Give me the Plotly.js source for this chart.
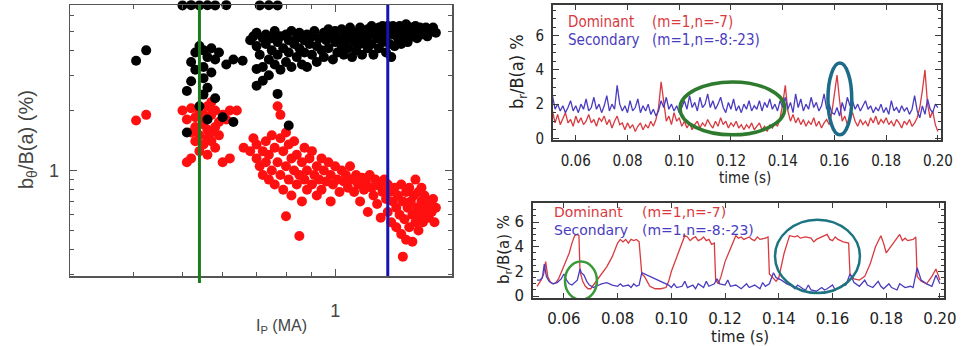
<!DOCTYPE html>
<html><head><meta charset="utf-8">
<script src="https://cdn.plot.ly/plotly-3.0.1.min.js"></script>
<style>html,body{margin:0;padding:0;background:#fff}#plot{width:965px;height:346px}</style>
</head><body><div id="plot"></div>
<script>
// ---------- Left panel: b_theta/B(a) vs Ip ----------
const blackIp = [0.405,0.424,
 0.52,0.53,0.54,0.55,0.56,0.57,0.58,0.53,0.55,0.57,0.52,0.56,0.51,0.55,0.58,0.54,0.51,0.56,0.61,0.63,0.60,0.63,0.55,0.59,0.657,0.70,0.72,0.70,0.77,0.81,
 0.68,0.69,0.70,0.70,0.71,0.72,0.72,0.73,0.73,0.74,0.74,0.75,0.75,0.76,0.76,0.77,0.77,0.78,0.78,0.79,0.80,0.80,0.81,0.81,0.82,0.82,0.83,0.84,0.84,0.85,0.85,0.86,0.87,0.87,0.88,0.88,0.89,0.90,0.90,0.91,0.92,0.92,0.93,0.94,0.95,0.95,0.96,0.97,0.97,0.98,0.99,1.00,1.00,1.01,1.02,1.03,1.03,1.04,1.05,1.05,1.06,1.07,1.07,1.08,1.09,1.10,1.10,1.11,1.12,1.12,1.13,1.14,1.15,1.16,1.16,1.17,1.18,1.18,1.19,1.20,1.21,1.22,1.22,1.23,1.24,1.24,1.25,1.26,1.26,1.27,1.28,1.28,1.29,1.30,1.30,1.31,1.32,1.33,1.34,1.35,1.35,1.36,1.37,1.38,1.39,1.40,1.41,1.42,1.43,1.44,1.45,1.46,1.47,1.48,1.49,1.50,1.51,1.52,1.53,1.55,1.56,1.58,
 0.50,0.52,0.54,0.56,0.58,0.61,0.71,0.74,0.77];
const blackB = [3.55,4.0,
 3.5,3.9,4.2,4.0,3.7,4.1,3.6,3.2,3.3,3.1,2.8,2.6,2.5,2.4,2.3,2.1,1.55,1.8,3.4,3.6,1.85,1.75,2.9,3.9,3.55,3.23,2.82,2.66,2.42,1.68,
 4.5,4.7,4.9,4.2,3.8,4.6,3.3,4.8,4.3,3.6,3.0,4.6,4.0,5.0,3.4,4.4,3.8,4.7,3.2,4.1,4.8,3.5,4.5,3.9,5.0,3.3,4.3,4.6,3.7,4.9,4.1,3.4,4.5,3.9,4.8,3.3,4.3,4.7,3.8,5.0,4.2,3.5,4.6,4.0,4.9,3.7,4.5,5.1,4.1,4.7,3.6,4.4,5.0,3.9,4.6,5.1,4.2,3.8,4.8,4.5,4.1,5.2,4.7,3.7,4.4,4.9,4.0,4.7,5.2,4.3,3.8,4.8,4.5,5.1,4.1,4.8,5.3,4.3,3.8,4.9,4.6,5.2,4.1,4.8,5.3,4.4,5.0,3.9,4.7,5.3,4.3,5.0,3.7,4.8,5.3,4.2,5.0,4.6,5.3,4.3,4.9,5.1,4.7,5.4,4.4,5.0,5.2,4.7,5.1,5.3,4.6,5.0,5.2,4.8,5.1,4.9,5.2,4.7,5.1,5.0,5.2,4.9,
 6.72,6.74,6.72,6.73,6.72,6.74,6.72,6.73,6.72];
const redIp = [0.405,0.424,
 0.50,0.52,0.54,0.56,0.58,0.60,0.62,0.64,0.51,0.53,0.55,0.57,0.59,0.61,0.53,0.55,0.56,0.58,0.54,0.56,0.57,0.55,0.57,0.58,0.54,0.56,0.52,0.51,0.60,0.62,0.53,0.52,0.59,0.55,0.57,
 0.66,0.68,0.69,0.70,0.70,0.71,0.72,0.72,0.73,0.73,0.74,0.74,0.75,0.75,0.76,0.76,0.77,0.77,0.78,0.78,0.78,0.79,0.79,0.80,0.80,0.80,0.81,0.81,0.82,0.82,0.83,0.83,0.84,0.84,0.85,0.85,0.86,0.86,0.87,0.87,0.88,0.88,0.89,0.90,0.90,0.91,0.92,0.92,0.93,0.94,0.94,0.95,0.96,0.97,0.98,0.98,0.99,1.00,1.01,1.02,1.03,1.04,1.05,1.06,1.07,1.08,1.09,1.10,1.11,1.12,1.13,1.14,1.15,1.16,1.17,1.18,1.19,1.20,1.21,1.22,1.23,1.24,1.25,1.26,1.27,1.27,1.28,1.29,1.30,1.31,1.32,1.32,1.33,1.34,1.35,1.35,1.36,1.36,1.37,1.38,1.38,1.39,1.40,1.40,1.41,1.42,1.42,1.43,1.44,1.44,1.45,1.46,1.46,1.47,1.48,1.48,1.49,1.50,1.50,1.51,1.52,1.53,1.54,1.55,1.56,1.58,1.57];
const redB = [1.78,1.9,
 2.0,2.05,1.95,2.1,2.0,1.9,2.0,2.0,1.8,1.85,1.8,1.9,1.75,1.8,1.65,1.7,1.6,1.65,1.5,1.45,1.55,1.35,1.4,1.3,1.25,1.2,1.15,1.1,1.1,1.15,1.4,1.55,1.5,1.9,2.2,
 1.30,1.25,1.45,1.15,1.35,1.05,1.25,0.95,1.4,1.1,0.9,1.2,1.5,1.0,1.3,0.85,1.1,2.1,1.9,1.45,0.95,1.25,0.8,1.05,0.59,1.55,1.35,0.9,1.15,0.75,1.0,1.4,0.85,1.2,0.47,0.95,1.1,0.7,1.3,0.9,1.0,0.8,1.15,0.85,1.25,0.95,1.05,0.75,0.9,1.15,0.8,1.0,0.88,1.1,0.95,0.7,0.85,1.05,0.9,0.78,1.0,0.88,0.95,0.82,1.05,0.9,0.78,0.95,0.85,0.7,0.92,0.8,0.88,0.62,0.95,0.82,0.75,0.9,0.68,0.84,0.58,0.78,0.9,0.72,0.85,0.62,0.78,0.55,0.7,0.82,0.65,0.52,0.75,0.6,0.85,0.48,0.37,0.7,0.57,0.78,0.45,0.65,0.52,0.82,0.7,0.6,0.44,0.75,0.55,0.9,0.65,0.5,0.78,0.6,0.7,0.82,0.55,0.65,0.75,0.6,0.7,0.58,0.68,0.62,0.72,0.65,0.55];
const ipMarkers = [0.54, 1.27];          // vertical reference lines (MA)
const ipTicks = [1];
const ipMinor = [0.3,0.4,0.5,0.6,0.7,0.8,0.9];
const bTicks = [1];
const bMinor = [0.3,0.4,0.5,0.6,0.7,0.8,0.9,2,3,4,5,6];

// ---------- Top right: time series (case 1) ----------
const tTop = [0.050,0.051,0.052,0.053,0.054,0.055,0.056,0.057,0.058,0.059,0.060,0.061,0.062,0.063,0.064,0.065,0.066,0.067,0.068,0.069,0.070,0.071,0.072,0.073,0.074,0.075,0.076,0.077,0.078,0.079,0.080,0.081,0.082,0.083,0.084,0.085,0.086,0.087,0.088,0.089,0.090,0.091,0.092,0.093,0.094,0.095,0.096,0.097,0.098,0.099,0.100,0.101,0.102,0.103,0.104,0.105,0.106,0.107,0.108,0.109,0.110,0.111,0.112,0.113,0.114,0.115,0.116,0.117,0.118,0.119,0.120,0.121,0.122,0.123,0.124,0.125,0.126,0.127,0.128,0.129,0.130,0.131,0.132,0.133,0.134,0.135,0.136,0.137,0.138,0.139,0.140,0.141,0.142,0.143,0.144,0.145,0.146,0.147,0.148,0.149,0.150,0.151,0.152,0.153,0.154,0.155,0.156,0.157,0.158,0.159,0.160,0.161,0.162,0.163,0.164,0.165,0.166,0.167,0.168,0.169,0.170,0.171,0.172,0.173,0.174,0.175,0.176,0.177,0.178,0.179,0.180,0.181,0.182,0.183,0.184,0.185,0.186,0.187,0.188,0.189,0.190,0.191,0.192,0.193,0.194,0.195,0.196,0.197,0.198,0.199,0.200];
const domTop = [1.2,1.6,0.9,1.4,0.8,1.2,1.5,0.9,1.1,0.7,1.3,0.9,1.2,0.8,1.0,1.4,0.9,1.1,0.7,1.2,1.0,1.3,0.8,1.1,0.6,1.0,1.3,0.8,0.9,0.5,0.9,0.6,0.8,0.4,0.7,0.9,0.5,0.8,0.6,1.0,0.7,1.1,1.8,3.3,2.0,1.0,1.3,0.8,1.5,1.0,1.2,0.7,1.0,0.6,0.9,0.5,0.8,1.0,0.6,0.9,0.7,1.1,0.8,0.6,1.0,0.7,1.2,0.8,1.0,0.6,0.9,0.7,1.0,0.6,0.8,0.5,0.8,0.6,0.9,0.5,0.7,0.9,0.5,0.7,0.4,0.8,0.6,0.9,0.7,1.2,2.0,3.1,1.6,1.0,1.4,0.9,1.2,0.8,1.1,0.7,1.0,0.8,1.2,0.7,1.0,0.6,0.9,1.1,0.8,1.5,2.6,3.7,2.2,1.0,1.3,0.8,1.2,1.5,1.0,0.7,1.1,0.8,1.0,0.7,1.2,0.9,1.3,0.8,1.1,0.9,1.2,0.8,1.0,0.7,1.1,0.9,0.6,1.0,0.8,1.1,0.7,0.9,1.2,1.8,2.8,4.0,2.0,1.2,1.6,0.8,0.4];
const secTop = [1.8,2.5,1.7,2.0,1.6,1.9,1.5,1.8,2.2,1.6,1.9,1.5,2.0,1.7,2.3,1.6,1.8,2.4,1.7,2.0,1.5,1.9,2.5,1.6,2.0,1.7,3.1,2.0,1.6,1.9,1.5,2.2,1.6,1.8,2.3,1.5,1.9,1.6,2.0,1.4,1.7,1.3,1.6,2.2,1.8,2.4,1.7,2.0,1.6,1.9,1.5,1.8,2.2,1.7,2.5,1.8,2.1,1.6,2.4,1.8,2.0,2.6,1.8,2.2,1.7,2.0,2.4,1.8,1.5,2.1,1.7,2.3,1.6,1.9,1.5,2.0,1.7,2.2,1.6,1.9,1.7,2.2,1.6,2.1,1.8,2.3,1.7,2.0,1.6,2.2,1.8,2.4,1.7,2.1,1.5,2.6,1.8,2.3,1.6,2.0,1.7,2.4,1.8,2.1,1.6,1.9,2.6,1.7,2.0,1.5,1.4,1.8,1.3,2.1,1.6,2.4,1.9,2.2,1.7,2.0,1.6,1.9,2.2,1.7,1.9,1.5,1.8,1.6,2.0,1.5,1.8,1.4,2.2,1.6,1.8,1.5,1.9,1.6,1.8,1.4,1.7,2.5,1.6,1.2,1.9,1.4,2.3,1.7,1.5,2.0,1.8];

// ---------- Bottom right: time series (case 2) ----------
const tDomBot = [0.0500,0.0515,0.0525,0.0532,0.0540,0.0550,0.0560,0.0570,0.0580,0.0590,0.0600,0.0610,0.0620,0.0630,0.0640,0.0650,0.0656,0.0660,0.0670,0.0680,0.0690,0.0700,0.0710,0.0720,0.0740,0.0760,0.0780,0.0790,0.0800,0.0810,0.0820,0.0830,0.0840,0.0850,0.0860,0.0870,0.0880,0.0890,0.0900,0.0910,0.0920,0.0940,0.0960,0.0980,0.0990,0.1000,0.1020,0.1040,0.1050,0.1060,0.1070,0.1080,0.1090,0.1100,0.1110,0.1120,0.1130,0.1140,0.1150,0.1160,0.1165,0.1175,0.1185,0.1200,0.1220,0.1240,0.1250,0.1260,0.1270,0.1290,0.1300,0.1310,0.1320,0.1330,0.1350,0.1360,0.1365,0.1380,0.1390,0.1400,0.1410,0.1420,0.1430,0.1440,0.1460,0.1470,0.1480,0.1500,0.1520,0.1530,0.1540,0.1560,0.1580,0.1590,0.1600,0.1610,0.1620,0.1640,0.1660,0.1665,0.1680,0.1700,0.1720,0.1740,0.1760,0.1780,0.1790,0.1800,0.1810,0.1830,0.1850,0.1860,0.1870,0.1880,0.1900,0.1910,0.1915,0.1930,0.1950,0.1970,0.1985,0.2000];
const domBot = [0.8,1.3,1.8,2.8,1.6,1.1,1.0,1.1,1.4,1.9,2.4,2.9,3.5,4.3,4.9,5.0,4.9,2.0,1.2,0.8,0.6,0.6,0.9,1.2,1.7,2.4,3.2,3.8,4.3,4.6,4.4,4.6,4.3,4.6,4.5,4.6,4.4,1.8,1.6,1.2,0.8,0.6,0.6,0.7,1.2,2.0,3.2,4.3,4.9,4.8,4.5,4.7,4.8,4.5,4.6,4.8,4.5,4.6,4.2,4.3,1.3,1.0,1.6,2.8,3.8,4.9,4.7,4.8,4.6,4.8,4.6,4.5,4.8,4.6,4.7,4.8,1.8,1.4,1.2,1.5,2.5,3.5,4.2,4.9,4.8,4.9,4.7,4.8,4.7,4.4,4.6,4.8,5.0,4.6,4.5,4.8,4.6,4.4,4.3,1.8,1.4,1.3,1.6,2.6,4.0,4.9,4.3,3.5,3.8,4.4,5.0,4.5,4.7,4.5,4.6,4.8,1.6,1.2,1.0,1.6,2.2,1.3];
const tSecBot = [0.0500,0.0510,0.0520,0.0527,0.0535,0.0545,0.0560,0.0575,0.0590,0.0600,0.0610,0.0620,0.0630,0.0640,0.0650,0.0660,0.0665,0.0675,0.0685,0.0695,0.0710,0.0720,0.0740,0.0760,0.0780,0.0800,0.0810,0.0820,0.0840,0.0850,0.0860,0.0870,0.0880,0.0890,0.0900,0.0910,0.0930,0.0950,0.0970,0.0990,0.1000,0.1010,0.1020,0.1040,0.1050,0.1060,0.1080,0.1090,0.1100,0.1120,0.1130,0.1140,0.1160,0.1170,0.1180,0.1200,0.1210,0.1220,0.1240,0.1260,0.1280,0.1290,0.1310,0.1330,0.1340,0.1350,0.1365,0.1380,0.1390,0.1410,0.1430,0.1450,0.1460,0.1470,0.1490,0.1500,0.1510,0.1520,0.1540,0.1560,0.1570,0.1580,0.1600,0.1610,0.1630,0.1650,0.1665,0.1680,0.1700,0.1720,0.1730,0.1750,0.1770,0.1780,0.1790,0.1810,0.1820,0.1840,0.1850,0.1870,0.1890,0.1900,0.1915,0.1930,0.1950,0.1970,0.1985,0.2000];
const secBot = [1.3,1.3,1.5,2.6,1.6,1.2,1.0,1.1,1.4,1.8,1.3,1.0,0.9,1.1,1.3,2.2,1.9,1.7,1.2,0.9,0.7,0.8,1.0,1.1,0.9,0.8,1.0,0.8,0.9,0.7,1.0,0.8,0.9,1.9,1.8,1.7,1.5,1.3,1.1,0.9,0.7,1.0,0.7,0.8,1.2,0.7,0.9,0.6,1.0,0.7,1.2,0.8,1.0,1.4,1.0,0.9,1.3,0.8,0.9,0.6,1.0,0.7,0.9,0.6,1.1,0.8,1.0,1.9,1.5,1.3,1.0,0.8,0.6,0.9,0.6,0.5,0.9,0.5,0.4,0.7,0.5,0.6,0.9,0.5,0.8,0.9,1.8,1.1,0.8,1.3,0.9,0.7,1.2,0.8,0.6,1.0,0.7,0.5,1.0,0.7,0.8,0.7,2.3,1.3,1.0,0.8,1.7,1.0];
const timeTicks = [0.06,0.08,0.10,0.12,0.14,0.16,0.18,0.20];
const timeTickText = ['0.06','0.08','0.10','0.12','0.14','0.16','0.18','0.20'];
const brTicks = [0,2,4,6];

// ---------- colours / helpers ----------
const RED = '#d83a3f', BLUE = '#4a3cc0', FRAME = '#3a3a3a';
const W = 965, H = 346;
const px = v => v / W, py = v => 1 - v / H;

const traces = [
  {type:'scatter', mode:'markers', x:redIp, y:redB, xaxis:'x', yaxis:'y',
   marker:{color:'#ff1010', size:10, line:{width:0}}, cliponaxis:false, hoverinfo:'skip'},
  {type:'scatter', mode:'markers', x:blackIp, y:blackB, xaxis:'x', yaxis:'y',
   marker:{color:'#000000', size:10, line:{width:0}}, cliponaxis:false, hoverinfo:'skip'},
  {type:'scatter', mode:'lines', x:tTop, y:domTop, xaxis:'x2', yaxis:'y2', line:{color:RED, width:1.3}},
  {type:'scatter', mode:'lines', x:tTop, y:secTop, xaxis:'x2', yaxis:'y2', line:{color:BLUE, width:1.3}},
  {type:'scatter', mode:'lines', x:tDomBot, y:domBot, xaxis:'x3', yaxis:'y3', line:{color:RED, width:1.3}},
  {type:'scatter', mode:'lines', x:tSecBot, y:secBot, xaxis:'x3', yaxis:'y3', line:{color:BLUE, width:1.3}}
];

const leftFont = {family:'Liberation Sans, Arial, sans-serif', color:'#444', size:18};
const rFont = {family:'DejaVu Sans Condensed, DejaVu Sans, sans-serif', color:'#222', size:15};
const rFont2 = {family:'DejaVu Sans, sans-serif', color:'#222', size:15};

function timeAxis(domain, range, anchor, font){
  return {domain, range, anchor, showgrid:false, zeroline:false, showline:true, linecolor:FRAME, linewidth:2, mirror:'ticks',
    ticks:'inside', ticklen:5, tickcolor:FRAME, tickvals:timeTicks, ticktext:timeTickText, tickfont:font, ticklabelstandoff:6};
}
function brAxis(domain, range, anchor, font){
  return {domain, range, anchor, showgrid:false, zeroline:false, showline:true, linecolor:FRAME, linewidth:2, mirror:'ticks',
    ticks:'inside', ticklen:6, tickcolor:FRAME, tickvals:brTicks, tickfont:font, ticklabelstandoff:4,
    minor:{ticks:'inside', ticklen:3, dtick:0.5, tick0:0, tickcolor:FRAME}};
}
function note(x, y, text, font, extra){
  return Object.assign({xref:'paper', yref:'paper', x:px(x), y:py(y), text, showarrow:false,
    xanchor:'center', yanchor:'middle', font}, extra || {});
}

const layout = {
  width:W, height:H, margin:{l:0,r:0,t:0,b:0}, paper_bgcolor:'#fff', plot_bgcolor:'#fff', showlegend:false,
  xaxis:{domain:[px(70),px(452)], type:'log', range:[Math.log10(0.3),Math.log10(1.70)], anchor:'y',
    showgrid:false, zeroline:false, showline:true, linecolor:'#555', linewidth:1.5, mirror:'ticks',
    ticks:'inside', ticklen:7, tickcolor:'#555', tickvals:ipTicks, ticktext:['1'], tickfont:leftFont, ticklabelstandoff:18,
    minor:{ticks:'inside', ticklen:4, tickvals:ipMinor, tickcolor:'#555'}},
  yaxis:{domain:[py(276),py(5)], type:'log', range:[Math.log10(0.296),Math.log10(6.75)], anchor:'x',
    showgrid:false, zeroline:false, showline:true, linecolor:'#555', linewidth:1.5, mirror:'ticks',
    ticks:'inside', ticklen:7, tickcolor:'#555', tickvals:bTicks, ticktext:['1'], tickfont:leftFont, ticklabelstandoff:6,
    minor:{ticks:'inside', ticklen:4, tickvals:bMinor, tickcolor:'#555'}},
  xaxis2: timeAxis([px(553),px(941)], [0.0512,0.2012], 'y2', rFont),
  yaxis2: brAxis([py(140),py(5)], [-0.1,7.8], 'x2', rFont),
  xaxis3: timeAxis([px(533),px(944)], [0.0485,0.2015], 'y3', rFont2),
  yaxis3: brAxis([py(298),py(203)], [-0.15,7.55], 'x3', rFont2),
  shapes:[
    {type:'line', xref:'x', yref:'paper', x0:ipMarkers[0], x1:ipMarkers[0], y0:py(283), y1:py(5), line:{color:'#1c7a1c', width:3}},
    {type:'line', xref:'x', yref:'paper', x0:ipMarkers[1], x1:ipMarkers[1], y0:py(276), y1:py(5), line:{color:'#1414b0', width:3}},
    {type:'circle', xref:'x2', yref:'y2', x0:0.1003, x1:0.1408, y0:0.2, y1:3.3, line:{color:'#2e7a2e', width:3.5}},
    {type:'circle', xref:'x2', yref:'y2', x0:0.1575, x1:0.1667, y0:0.2, y1:4.4, line:{color:'#1d6b88', width:3.5}},
    {type:'circle', xref:'x3', yref:'y3', x0:0.0604, x1:0.0723, y0:-0.3, y1:2.8, line:{color:'#3a9a3a', width:2.5}},
    {type:'circle', xref:'x3', yref:'y3', x0:0.1386, x1:0.1702, y0:0.25, y1:6.2, line:{color:'#1d7480', width:2.5}}
  ],
  annotations:[
    note(27, 140, 'b<sub>θ</sub>/B(a) (%)', {family:'Liberation Sans, Arial, sans-serif', size:20, color:'#444'}, {textangle:-90}),
    note(281, 326, 'I<sub>P</sub> (MA)', {family:'Liberation Sans, Arial, sans-serif', size:16, color:'#444'}),
    note(518, 72, 'b<sub>r</sub>/B(a) %', {family:'DejaVu Sans Condensed, DejaVu Sans, sans-serif', size:18, color:'#222'}, {textangle:-90}),
    note(745, 178, 'time (s)', rFont),
    note(566, 22, 'Dominant', {family:rFont.family, size:15, color:RED}, {xanchor:'left'}),
    note(650, 22, '(m=1,n=-7)', {family:rFont.family, size:15, color:RED}, {xanchor:'left'}),
    note(566, 40, 'Secondary', {family:rFont.family, size:15, color:BLUE}, {xanchor:'left'}),
    note(650, 40, '(m=1,n=-8:-23)', {family:rFont.family, size:15, color:BLUE}, {xanchor:'left'}),
    note(504, 250, 'b<sub>r</sub>/B(a) %', {family:'DejaVu Sans, sans-serif', size:15, color:'#222'}, {textangle:-90}),
    note(740, 337, 'time (s)', rFont2),
    note(552, 212, 'Dominant', {family:rFont2.family, size:14, color:RED}, {xanchor:'left'}),
    note(640, 212, '(m=1,n=-7)', {family:rFont2.family, size:14, color:RED}, {xanchor:'left'}),
    note(552, 230, 'Secondary', {family:rFont2.family, size:14, color:BLUE}, {xanchor:'left'}),
    note(640, 230, '(m=1,n=-8:-23)', {family:rFont2.family, size:14, color:BLUE}, {xanchor:'left'})
  ]
};

Plotly.newPlot('plot', traces, layout, {staticPlot:true, displayModeBar:false});
</script>
</body></html>
